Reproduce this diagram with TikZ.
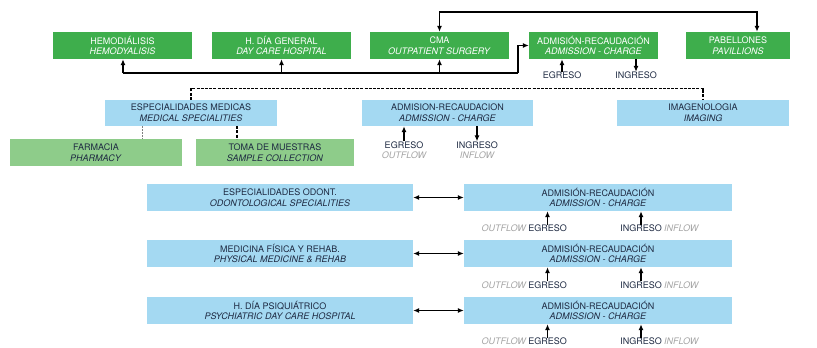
\documentclass[tikz,border=0pt]{standalone}
\usepackage{fontspec}
\setmainfont{TeX Gyre Heros}
\usetikzlibrary{arrows.meta}
\definecolor{gdark}{RGB}{62,174,76}
\definecolor{glight}{RGB}{142,204,138}
\definecolor{lblue}{RGB}{164,217,242}
\definecolor{navy}{RGB}{30,42,66}
\definecolor{lgray}{RGB}{165,165,165}
\begin{document}
\begin{tikzpicture}[x=1pt,y=-1pt,
  base/.style={inner sep=0pt, align=center, font=\fontsize{9}{10.8}\selectfont},
  gbox/.style={base, fill=gdark, text=white},
  lgbox/.style={base, fill=glight, text=navy},
  bbox/.style={base, fill=lblue, text=navy},
  lbl/.style={inner sep=0pt, font=\fontsize{9}{10}\selectfont, text=navy},
  glbl/.style={inner sep=0pt, font=\fontsize{9}{10}\selectfont\itshape, text=lgray},
  conn/.style={line width=1.3pt, draw=black},
  arr/.style={conn, -{Latex[length=6pt,width=5pt]}},
  darr/.style={conn, {Latex[length=6pt,width=5pt]}-{Latex[length=6pt,width=5pt]}},
  dash2/.style={line width=1.2pt, dash pattern=on 3pt off 1.2pt}]
\useasboundingbox (0,0) rectangle (817,348);
\fill[white] (0,0) rectangle (817,348);

% top row
\node[gbox, minimum width=139pt, minimum height=27pt] (hemo) at (122.5,45.5) {HEMODIÁLISIS\\\textit{HEMODYALISIS}};
\node[gbox, minimum width=139pt, minimum height=27pt] (hdg) at (281.5,45.5) {H. DÍA GENERAL\\\textit{DAY CARE HOSPITAL}};
\node[gbox, minimum width=139pt, minimum height=27pt] (cma) at (439.5,45.5) {CMA\\\textit{OUTPATIENT SURGERY}};
\node[gbox, minimum width=129pt, minimum height=27pt] (adm1) at (593.5,45.5) {ADMISIÓN-RECAUDACIÓN\\\textit{ADMISSION - CHARGE}};
\node[gbox, minimum width=104pt, minimum height=27pt] (pab) at (738,45.5) {PABELLONES\\\textit{PAVILLIONS}};

% top connector
\coordinate (tp) at (757,12);
\draw[darr] (cma.north) |- (tp) -- (tp |- pab.north);

% bus below top row
\coordinate (b1) at (123,73);
\coordinate (b4) at (518,73);
\draw[conn] (b1) -- (b4);
\draw[arr] (b1) -- (hemo.south -| b1);
\draw[arr] (hdg.south |- b1) -- (hdg.south);
\draw[arr] (cma.south |- b1) -- (cma.south);
\draw[arr] (b4) |- (adm1.west);

\node[lbl] (eg1) at (562,75.5) {EGRESO};
\node[lbl] (in1) at (636,75.5) {INGRESO};
\draw[arr] (eg1.north) -- (eg1.north |- adm1.south);
\draw[arr] (in1.north |- adm1.south) -- (in1.north);

% second row
\node[bbox, minimum width=172pt, minimum height=26pt] (esp) at (191,113) {ESPECIALIDADES MEDICAS\\\textit{MEDICAL SPECIALITIES}};
\node[bbox, minimum width=171pt, minimum height=26pt] (adm2) at (447.5,113) {ADMISION-RECAUDACION\\\textit{ADMISSION - CHARGE}};
\node[bbox, minimum width=172pt, minimum height=26pt] (img) at (703,113) {IMAGENOLOGIA\\\textit{IMAGING}};

\coordinate (dd) at (0,88.5);
\draw[dash2] (esp.north) -- (esp.north |- dd) -| (img.north);

\node[lbl] (eg2) at (404,145) {EGRESO};
\node[glbl] (of2) at (404,155.5) {OUTFLOW};
\node[lbl] (in2) at (477,145) {INGRESO};
\node[glbl] (if2) at (477,155.5) {INFLOW};
\draw[arr] (eg2.north) -- (eg2.north |- adm2.south);
\draw[arr] (in2.north |- adm2.south) -- (in2.north);

% third row
\node[lgbox, minimum width=172pt, minimum height=27pt] (farm) at (96,152.5) {FARMACIA\\\textit{PHARMACY}};
\node[lgbox, minimum width=158pt, minimum height=27pt] (toma) at (275,152.5) {TOMA DE MUESTRAS\\\textit{SAMPLE COLLECTION}};
\coordinate (f1) at (142,0);
\coordinate (t1) at (237,0);
\draw[line width=0.7pt, dash pattern=on 2pt off 1pt, draw=gray] (esp.south -| f1) -- (farm.north -| f1);
\draw[dash2] (esp.south -| t1) -- (toma.north -| t1);

% lower section
\node[bbox, minimum width=266pt, minimum height=27pt] (od) at (280,197.5) {ESPECIALIDADES ODONT.\\\textit{ODONTOLOGICAL SPECIALITIES}};
\node[bbox, minimum width=266pt, minimum height=27pt] (mf) at (280,253.5) {MEDICINA FÍSICA Y REHAB.\\\textit{PHYSICAL MEDICINE \& REHAB}};
\node[bbox, minimum width=266pt, minimum height=27pt] (ps) at (280,310.5) {H. DÍA PSIQUIÁTRICO\\\textit{PSYCHIATRIC DAY CARE HOSPITAL}};

\node[bbox, minimum width=268pt, minimum height=27pt] (ra) at (598,197.5) {ADMISIÓN-RECAUDACIÓN\\\textit{ADMISSION - CHARGE}};
\node[bbox, minimum width=268pt, minimum height=27pt] (rb) at (598,253.5) {ADMISIÓN-RECAUDACIÓN\\\textit{ADMISSION - CHARGE}};
\node[bbox, minimum width=268pt, minimum height=27pt] (rc) at (598,310.5) {ADMISIÓN-RECAUDACIÓN\\\textit{ADMISSION - CHARGE}};

\draw[darr] (od.east) -- (ra.west);
\draw[darr] (mf.east) -- (rb.west);
\draw[darr] (ps.east) -- (rc.west);

% labels row a
\node[lbl] (ega) at (547.5,228.5) {EGRESO};
\node[glbl, anchor=east] (ofa) at ([xshift=-2pt]ega.west) {OUTFLOW};
\node[lbl] (ina) at (641,228.5) {INGRESO};
\node[glbl, anchor=west] (ifa) at ([xshift=2pt]ina.east) {INFLOW};
\draw[arr] (ega.north) -- (ega.north |- ra.south);
\draw[arr] (ina.north) -- (ina.north |- ra.south);

% labels row b
\node[lbl] (egb) at (547.5,285) {EGRESO};
\node[glbl, anchor=east] (ofb) at ([xshift=-2pt]egb.west) {OUTFLOW};
\node[lbl] (inb) at (641,285) {INGRESO};
\node[glbl, anchor=west] (ifb) at ([xshift=2pt]inb.east) {INFLOW};
\draw[arr] (egb.north) -- (egb.north |- rb.south);
\draw[arr] (inb.north) -- (inb.north |- rb.south);

% labels row c
\node[lbl] (egc) at (547.5,341.5) {EGRESO};
\node[glbl, anchor=east] (ofc) at ([xshift=-2pt]egc.west) {OUTFLOW};
\node[lbl] (inc) at (641,341.5) {INGRESO};
\node[glbl, anchor=west] (ifc) at ([xshift=2pt]inc.east) {INFLOW};
\draw[arr] (egc.north) -- (egc.north |- rc.south);
\draw[arr] (inc.north) -- (inc.north |- rc.south);
\end{tikzpicture}
\end{document}
